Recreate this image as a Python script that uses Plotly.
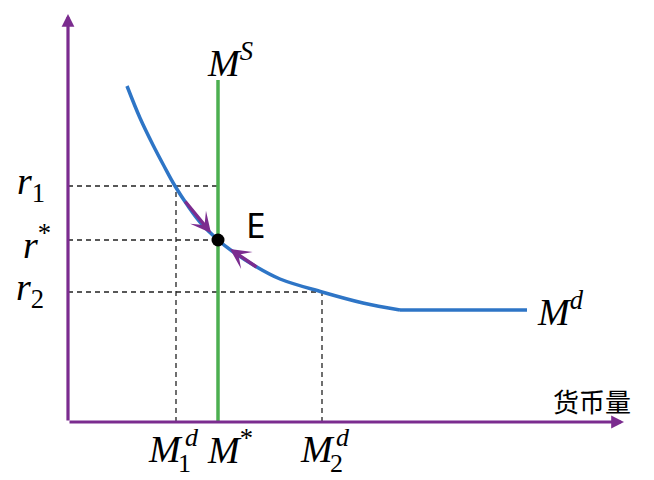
import plotly.graph_objects as go

# ---- data (quantity of money on x, interest rate on y; origin at axis corner) ----
md_q = [59, 72, 85, 96, 107, 120, 132, 150, 164, 187, 212, 254, 295, 332, 459]
md_r = [336, 304, 277, 256, 236, 216, 200, 182, 171, 156, 143, 130, 119, 112, 112]
kink_index = 13

ms_q = 150
ms_top = 342

eq_q, eq_r = 150, 182

r_labels = ["r1", "r*", "r2"]
r_values = [236, 182, 130]
m_values = {"M1d": 108, "M*": 150, "M2d": 254}

# adjustment arrows along Md (tail -> tip)
adj_arrows = [((116, 222), (143, 189)), ((190, 154), (162, 173))]

x_axis_end = 556
y_axis_end = 408

purple = "#7B2C8F"
blue = "#2E75C6"
green = "#4CAF50"
serif = "Liberation Serif"

fig = go.Figure()

dash_style = dict(color="#222222", width=1.3, dash="5px,4px")
# horizontal dashed guides
fig.add_trace(go.Scatter(x=[0, ms_q], y=[r_values[0]] * 2, mode="lines", line=dash_style))
fig.add_trace(go.Scatter(x=[0, ms_q], y=[r_values[1]] * 2, mode="lines", line=dash_style))
fig.add_trace(go.Scatter(x=[0, m_values["M2d"]], y=[r_values[2]] * 2, mode="lines", line=dash_style))
# vertical dashed guides
fig.add_trace(go.Scatter(x=[m_values["M1d"]] * 2, y=[0, r_values[0]], mode="lines", line=dash_style))
fig.add_trace(go.Scatter(x=[m_values["M2d"]] * 2, y=[0, r_values[2]], mode="lines", line=dash_style))

# money supply
fig.add_trace(go.Scatter(x=[ms_q, ms_q], y=[0, ms_top], mode="lines", line=dict(color=green, width=3.5)))

# money demand
fig.add_trace(go.Scatter(x=md_q[:kink_index + 1], y=md_r[:kink_index + 1], mode="lines",
                         line=dict(color=blue, width=3.5, shape="spline", smoothing=1.0)))
fig.add_trace(go.Scatter(x=md_q[kink_index:], y=md_r[kink_index:], mode="lines",
                         line=dict(color=blue, width=3.5)))

# equilibrium point
fig.add_trace(go.Scatter(x=[eq_q], y=[eq_r], mode="markers",
                         marker=dict(color="black", size=13)))

ann = []
# axes with arrows
for tip in [(x_axis_end, 0), (0, y_axis_end)]:
    ann.append(dict(x=tip[0], y=tip[1], ax=0, ay=0, xref="x", yref="y", axref="x", ayref="y",
                    text="", showarrow=True, arrowhead=2, arrowsize=0.8, arrowwidth=3.2,
                    arrowcolor=purple, standoff=0, startstandoff=0))
# adjustment arrows
for (tail, tip) in adj_arrows:
    ann.append(dict(x=tip[0], y=tip[1], ax=tail[0], ay=tail[1], xref="x", yref="y", axref="x", ayref="y",
                    text="", showarrow=True, arrowhead=3, arrowsize=1.0, arrowwidth=3.4,
                    arrowcolor=purple, standoff=0, startstandoff=0))

def label(text, x, y, size=38, family=serif, xanchor="center", yanchor="middle", color="black"):
    ann.append(dict(x=x, y=y, xref="x", yref="y", text=text, showarrow=False,
                    font=dict(family=family, size=size, color=color),
                    xanchor=xanchor, yanchor=yanchor))

# r labels
label("<i>r</i><sub>1</sub>", -37, r_values[0] + 2)
label("<i>r</i><sup>*</sup>", -31, r_values[1] - 2)
label("<i>r</i><sub>2</sub>", -38, r_values[2] + 2)

# bottom M labels
label("<i>M</i>", m_values["M1d"] - 11, -27)
label("<i>d</i>", m_values["M1d"] + 16, -15, size=26)
label("1", m_values["M1d"] + 8, -41, size=26)
label("<i>M</i><sup>*</sup>", m_values["M*"] + 12, -25)
label("<i>M</i>", m_values["M2d"] - 5, -27)
label("<i>d</i>", m_values["M2d"] + 21, -15, size=26)
label("2", m_values["M2d"] + 14, -41, size=26)

# curve labels
label("<i>M</i><sup><i>S</i></sup>", ms_q + 12, 362)
label("<i>M</i><sup><i>d</i></sup>", 492, 113)
label("E", 187, 198, size=35, family="Noto Sans")
label("货币量", 524, 22, size=26, family="Noto Sans CJK SC")

fig.update_layout(
    width=654, height=480,
    margin=dict(l=0, r=0, t=0, b=0),
    paper_bgcolor="white", plot_bgcolor="white",
    showlegend=False,
    xaxis=dict(range=[-68, 586], visible=False, fixedrange=True),
    yaxis=dict(range=[-58, 422], visible=False, fixedrange=True),
    annotations=ann,
)

fig.write_html("out.html", config={"displayModeBar": False},
               post_script="document.body.style.margin='0';")
